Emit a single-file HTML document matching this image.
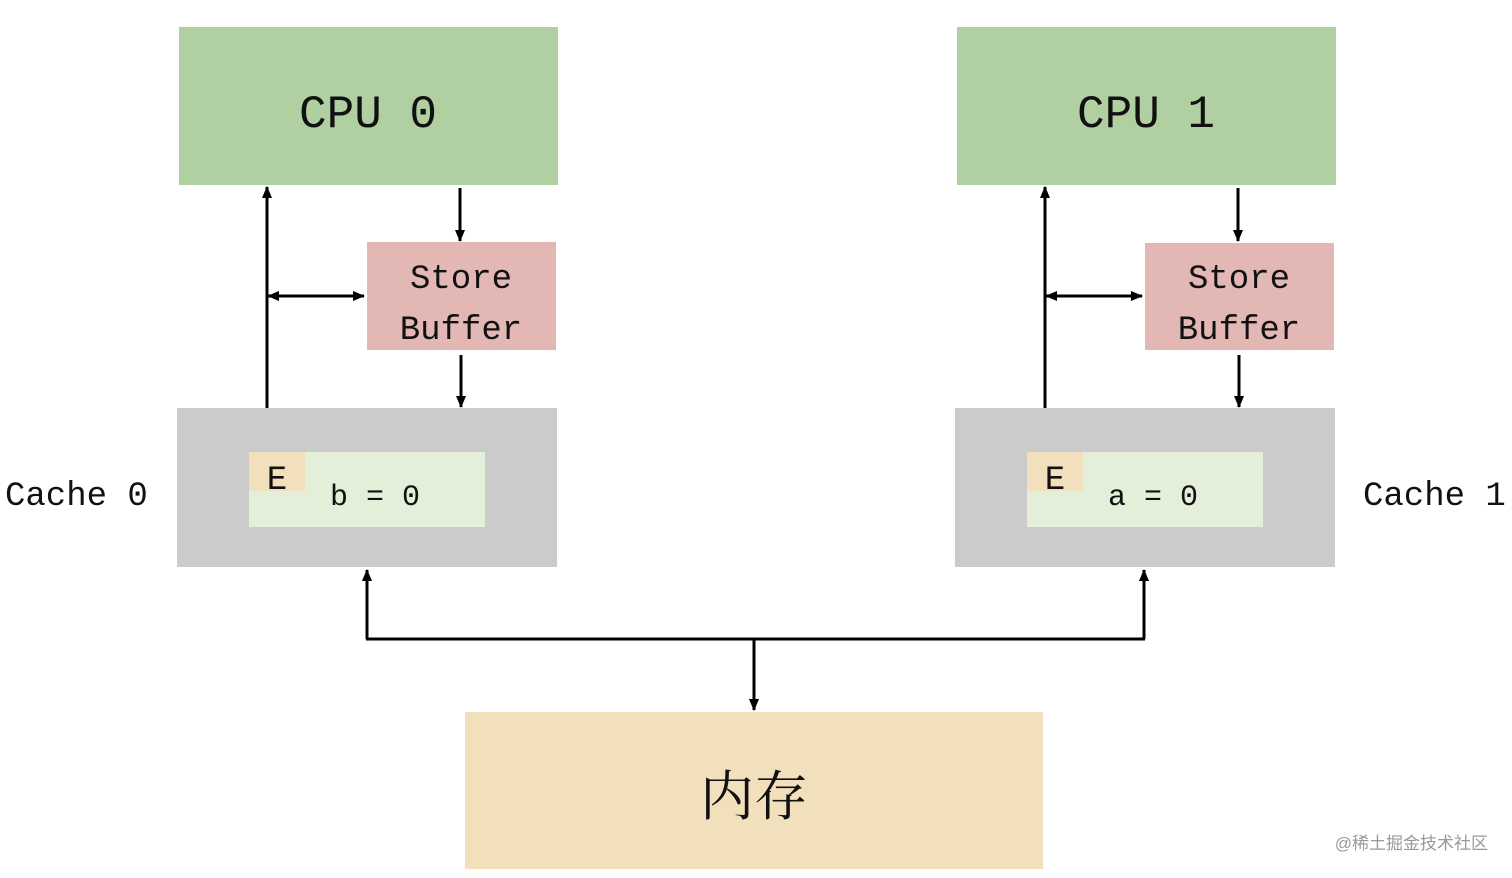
<!DOCTYPE html>
<html><head><meta charset="utf-8"><style>
html,body{margin:0;padding:0;background:#fff;width:1512px;height:878px;overflow:hidden}
svg text{font-family:"Liberation Mono","Noto Serif CJK SC",monospace;fill:#111}
</style></head><body>
<svg width="1512" height="878" viewBox="0 0 1512 878" xmlns="http://www.w3.org/2000/svg">
<defs><marker id="a" markerWidth="12" markerHeight="12" refX="11" refY="6" orient="auto" markerUnits="userSpaceOnUse"><path d="M0,1 L12,6 L0,11 z" fill="#000"/></marker></defs>
<rect x="179" y="27" width="379" height="158" fill="#b0d0a1"/>
<rect x="957" y="27" width="379" height="158" fill="#b0d0a1"/>
<text x="368" y="127" font-size="46" text-anchor="middle">CPU 0</text>
<text x="1146" y="127" font-size="46" text-anchor="middle">CPU 1</text>
<rect x="367" y="242" width="189" height="108" fill="#e3b8b4"/>
<rect x="1145" y="243" width="189" height="107" fill="#e3b8b4"/>
<text x="461" y="288" font-size="34" text-anchor="middle">Store</text>
<text x="461" y="339" font-size="34" text-anchor="middle">Buffer</text>
<text x="1239" y="288" font-size="34" text-anchor="middle">Store</text>
<text x="1239" y="339" font-size="34" text-anchor="middle">Buffer</text>
<rect x="177" y="408" width="380" height="159" fill="#cbcbcb"/>
<rect x="955" y="408" width="380" height="159" fill="#cbcbcb"/>
<rect x="249" y="452" width="236" height="75" fill="#e3efd9"/>
<rect x="249" y="452" width="56" height="39" fill="#f2dfbc"/>
<rect x="1027" y="452" width="236" height="75" fill="#e3efd9"/>
<rect x="1027" y="452" width="56" height="39" fill="#f2dfbc"/>
<text x="277" y="489" font-size="34" text-anchor="middle">E</text>
<text x="1055" y="489" font-size="34" text-anchor="middle">E</text>
<text x="375" y="505" font-size="30" text-anchor="middle">b = 0</text>
<text x="1153" y="505" font-size="30" text-anchor="middle">a = 0</text>
<text x="5" y="505" font-size="34">Cache 0</text>
<text x="1363" y="505" font-size="34">Cache 1</text>
<rect x="465" y="712" width="578" height="157" fill="#f2e0bd"/>
<text x="754" y="815" font-size="54" text-anchor="middle" style="font-family:'Noto Serif CJK SC',serif">内存</text>
<g stroke="#000" stroke-width="3" fill="none">
<line x1="267" y1="408" x2="267" y2="187" marker-end="url(#a)"/>
<line x1="460" y1="188" x2="460" y2="241" marker-end="url(#a)"/>
<line x1="461" y1="355" x2="461" y2="407" marker-end="url(#a)"/>
<line x1="300" y1="296" x2="364" y2="296" marker-end="url(#a)"/>
<line x1="320" y1="296" x2="268" y2="296" marker-end="url(#a)"/>
<line x1="1045" y1="408" x2="1045" y2="187" marker-end="url(#a)"/>
<line x1="1238" y1="188" x2="1238" y2="241" marker-end="url(#a)"/>
<line x1="1239" y1="355" x2="1239" y2="407" marker-end="url(#a)"/>
<line x1="1080" y1="296" x2="1142" y2="296" marker-end="url(#a)"/>
<line x1="1100" y1="296" x2="1046" y2="296" marker-end="url(#a)"/>
<line x1="367" y1="639" x2="367" y2="570" marker-end="url(#a)"/>
<line x1="1144" y1="639" x2="1144" y2="570" marker-end="url(#a)"/>
<line x1="366" y1="639" x2="1145" y2="639"/>
<line x1="754" y1="639" x2="754" y2="710" marker-end="url(#a)"/>
</g>
<text x="1488" y="849" font-size="17" text-anchor="end" style="fill:#999;font-family:'Liberation Sans','Noto Sans CJK SC',sans-serif">@稀土掘金技术社区</text>
</svg>
</body></html>
